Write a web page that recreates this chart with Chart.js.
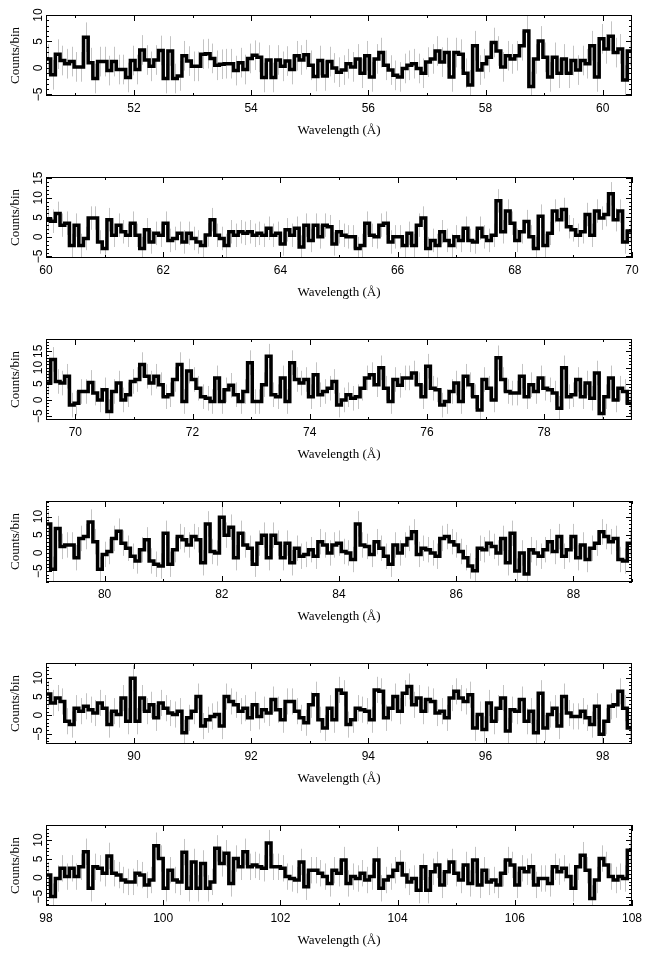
<!DOCTYPE html>
<html>
<head>
<meta charset="utf-8">
<title>Spectrum panels</title>
<script src="https://cdn.jsdelivr.net/npm/chart.js@4.4.0/dist/chart.umd.min.js"></script>
<style>
  html, body { margin: 0; padding: 0; background: #fff; }
  #wrap { position: relative; width: 652px; height: 958px; overflow: hidden; }
  #wrap canvas { position: absolute; left: 0; }
</style>
</head>
<body>
<div id="wrap"></div>
<script>
// ==================== DATA ====================
// binned counts, one value per 0.08 A bin, panels start at panelStart
const binWidth = 0.08;
const panelStart = [50.5, 60, 69.5, 79, 88.5, 98];
const panelEnd = [60.5, 70, 79.5, 89, 98.5, 108];

const counts1 = [
  1.7, -1.3, 2.6, 1.4, 0.8, 1.2, 0.2, 0.2, 5.8, 1.0,
  -2, 1.2, 1.2, -0.5, 1.2, -0.3, -0.3, -1.8, 1.4, -0.3,
  3.4, 1.5, 0.3, 1.5, 3.3, -2, 3.2, -2, -1.5, 2.3,
  1.3, 0.3, 0.3, 2.6, 2.7, 1.8, 0.5, 0.7, 0.8, 0.8,
  -0.5, 1.0, -0.3, 1.8, 2.4, 2.0, -1.8, 1.5, -1.8, 1.5,
  0.3, 1.3, -0.3, 2.3, 1.5, 2.5, 0.5, -1.6, 1.4, -1.5,
  1.2, 0, -0.8, -0.4, 0.8, 0.2, 1.7, -1, 2.3, -1.7,
  1.7, 2.9, 0.5, -0.4, -1.4, -1.7, -0.1, 0.5, 0.8, -0.1,
  -1, 1.1, 1.7, 3.2, 1.1, 2.9, -1.7, 2.9, 2.6, -1,
  -3.2, 4.2, -0.4, 0.8, 2, 4.8, 3.2, 0.2, 2.3, 1.7,
  2.3, 4.2, 7, -3.5, 1.7, 5.1, 2, -1.7, 2, -1,
  1.7, -1, 1.4, -0.4, 1.4, 0.8, 4.2, -1.7, 5.5, 3.6,
  6, 2.9, 3.6, -2.3, 3.2
];
const counts2 = [
  4.5, 4, 6, 3, 3.5, -2.2, 3, -2.2, -0.4, 4.8,
  4.8, -1.3, -3, 4.4, 0.4, 3, 1.3, 0.4, 3.5, 0.4,
  -3, 1.8, -1.3, 0.9, 0.4, 3.5, -0.9, -0.4, 0.9, -1.3,
  0.9, -0.4, -1.3, -2.2, 0.5, 4.4, 0.4, -0.4, -2.2, 1.3,
  0.4, 1.3, 0.9, 1.3, 0.4, 0.9, 0.4, 2.2, 0.4, 0.9,
  -1.8, 1.8, 0.4, 2.2, -2.6, 3, -0.9, 3, 0, 3,
  2.6, -1.8, 1.3, 0.4, 0, 0, -3, -2.2, 3.5, 0.4,
  0, 3, 3.5, -1.3, 0, 0, -2.2, 0.9, -2.2, 3,
  4.8, -3, -0.9, -2.2, 1.3, -0.9, -2.2, 0, -0.9, 2.2,
  -0.9, -1.3, 2.2, 0, -0.9, 0.4, 9.2, 1.3, 6.6, 3.5,
  -0.9, 1.3, 3.9, 0, -3, 5.3, -2.2, 0.9, 6.6, 4.4,
  7, 2.6, 1.8, 0.4, 1.3, 5.7, 0.4, 6.6, 4.8, 5.7,
  11, 4.4, 6.6, -1.3, 1.5
];
const counts3 = [
  5.2, 12.5, 5.7, 5.2, 7.3, -1.6, -1, 2.6, 2.6, 5.4,
  2.1, 0, 3.1, -3.6, 2.6, 5.2, 0, 1.6, 5.7, 6.3,
  10.9, 7.3, 5.2, 7.3, 4.7, 1, 1.6, 6.3, 10.9, -0.5,
  8.9, 6.3, 3.6, 1, 0.5, -0.5, 6.8, -0.5, 3.1, 4.5,
  1.6, -0.5, 2.6, 11.5, -0.5, -0.5, 4.7, 13.5, 1.6, 1,
  6.8, -0.5, 11.5, 6.3, 5.2, 6.3, 1, 7.8, 1.6, 2.6,
  3.6, 5.7, -1.6, 0, 1.6, 0.5, 1, 3.6, 6.8, 7.8,
  4.7, 9.9, 3.6, -0.5, 6.3, 4.5, 6.8, 6.8, 8.3, 4.7,
  1, 10.4, 3.6, 3.1, -1.6, -0.5, 2.6, 5.2, -0.5, 7.3,
  4.7, 1, -3.1, 6.3, 3.6, 0, 13, 6.3, 2.6, 2.1,
  2.1, 7.3, 1, 4.7, 2.6, 6.8, 3.6, 3.1, 2.1, -2.6,
  9.9, 1, 1.6, 6.3, 1, 5.2, 0.5, 8.3, -4.2, 1,
  6.8, 0, 3.6, 2.6, -1
];
const counts4 = [
  8, -4.5, 6.7, 1.8, 2.2, 2.2, -1.3, 4, 4.5, 8.5,
  3.1, -4.5, -0.4, 0.4, 4, 6, 2.7, 1.3, -0.9, -2.2,
  0.9, 3.6, -2.2, -3.1, -3.6, 5.4, -3.1, 0.9, 4.5, 3.6,
  2.2, 4.5, 3.6, -2.7, 8, 0.4, 0, 9.8, 4.9, 7.1,
  -1.3, 5.4, 2.2, 1.3, -3.1, 2.7, 4.9, -1.3, 4.9, 2.7,
  -1.3, 2.7, -2.7, 1.3, -0.9, -0.4, 0.9, -0.9, 3.1, 2.2,
  0, 2.2, 2.7, 0.4, 0, -1.8, 8, 2.2, 1.8, -0.4,
  3.1, 1.3, -0.9, -3.1, 2.2, 0, 2.2, 4, 5.8, -0.4,
  1.3, 0.9, 0, -0.9, 4, 4.5, 3.1, 2.2, 0.4, -1.3,
  -3.6, -4.9, 1.3, 0.9, 2.7, 1.8, 0, 4, -2.7, 5.4,
  -5, 0, -5.8, 0.9, 0, -0.9, 0.9, 3.1, 0.4, 4.5,
  -0.9, 0.9, 4.5, -1.3, 2.2, -1.8, 1.3, 2.7, 5.8, 4.5,
  3.1, 4, -1.8, -2.2, 2.7
];
const counts5 = [
  5.7, 3.3, 4.6, 3.7, -1.6, -2.5, 1.9, 1.1, 2.4, 1.5,
  0.6, 3.3, 1.9, -2.5, 1.1, 0.2, 4.6, -1.6, 9.9, -1.6,
  4.6, 1.1, 2.8, -0.7, 3.3, 1.9, 0.6, 0.2, 1.1, -4.7,
  -0.7, 1.1, 5, -2.9, -1.2, -0.3, 0.2, -2.9, 5, 3.7,
  2.8, 1.1, 1.9, -0.7, 2.8, -0.3, 1.5, 0.6, 4.2, 1.5,
  -1.2, 3.7, 3.7, 1.1, -0.7, -2, 2.8, 5.5, -1.2, -3.4,
  1.9, -1.2, 6.8, 5.9, -2.5, -1.2, 1.9, 1.5, 1.1, -1.2,
  6.8, 6.4, -0.7, 1.9, 5, 1.1, 5.9, 7.7, 2.8, 4.6,
  1.1, 4.2, 3.7, 0.6, 1.1, -0.7, 4.6, 6.4, 4.6, 3.7,
  5.5, -3.4, 0.2, -3.8, 3.3, -1.6, 1.9, 4.6, -4.2, 1.5,
  1.1, 4.2, -1.6, 1.1, -4.7, 5.9, -3.4, 0.2, 1.9, -2.9,
  5, 0.6, -0.3, -0.3, 1.1, -0.7, -2.5, 2.4, -5.1, -1.6,
  2.4, 2.8, 6.4, 1.9, -3.4
];
const counts6 = [
  0.7, -5, -0.2, 2.5, 0.3, 2.5, 0.3, 2.9, 6.9, -2.8,
  2.9, 2.5, 1.2, 5.8, 1.2, 0.7, -0.6, -1.1, -1.1, 1.2,
  0.7, -1.9, -0.6, 8.5, 5.1, -2.8, 2, -0.6, -1.1, 6.8,
  -2.8, 4.2, -2.8, 3.8, -2.8, -1.1, 7.8, 3.8, 6.5, -1.5,
  5.1, 2.9, 6.9, 2.9, 3.4, 2.9, 2.5, 9.2, 2.9, 2.9,
  2.5, 0.3, -0.2, -0.6, 4.2, -2.4, 2, 2, 1.2, 0.3,
  -1.5, 2, 1.2, 4.7, -1.5, 0.3, -0.2, 1.2, -0.6, 0.3,
  4.7, -2.8, -0.6, 0.3, 2, 3.8, 0.7, -1.1, -0.2, -3.3,
  2.9, -3.3, 1.6, 3.4, -1.9, 1.6, 4.2, 1.2, -0.6, 3.4,
  -1.5, 4.7, -1.9, 2, -1.1, -0.6, -1.9, 1.2, 4.7, 3.4,
  -1.9, 2.5, 1.6, 2.9, -1.9, -0.2, -0.2, -1.5, 2.9, 1.6,
  2.5, 0.3, -2.8, 2.9, 6, 2, -5.5, -0.6, 5.1, 3.4,
  0.3, -0.6, 0.3, -0.2, 7.3
];
const countsAll = [counts1, counts2, counts3, counts4, counts5, counts6];

// typical 1-sigma half length of the grey error bars in each panel
const errHalf = [2.8, 3.0, 3.8, 3.5, 3.5, 3.5];

// axis ranges and tick labels
const yMin = [-5.3, -5.4, -6.2, -8, -7.7, -7.5];
const yMax = [10, 15.3, 18.8, 14.3, 14, 14];
const xTicks1 = [52, 54, 56, 58, 60];
const xTicks2 = [60, 62, 64, 66, 68, 70];
const xTicks3 = [70, 72, 74, 76, 78];
const xTicks4 = [80, 82, 84, 86, 88];
const xTicks5 = [90, 92, 94, 96, 98];
const xTicks6 = [98, 100, 102, 104, 106, 108];
const xTicksAll = [xTicks1, xTicks2, xTicks3, xTicks4, xTicks5, xTicks6];
const yTicksLow = [-5, 0, 5, 10];
const yTicksHigh = [-5, 0, 5, 10, 15];
const yTicksAll = [yTicksLow, yTicksHigh, yTicksHigh, yTicksLow, yTicksLow, yTicksLow];

// ==================== LAYOUT ====================
const PANEL_TOP = [15, 177, 339, 501, 663, 825];
const PLOT_H = 81;
const PAD_TOP = 10;
const CANVAS_H = 150;
const CANVAS_W = 652;
const PLOT_LEFT = 46;
const PLOT_RIGHT = 632;
const SANS = "'Liberation Sans', Arial, sans-serif";
const SERIF = "'Liberation Serif', 'Times New Roman', serif";

function minusLabel(v) {
  return v < 0 ? '\u2212' + Math.abs(v) : String(v);
}

// frame, inward ticks, rotated y labels and grey error bars
const framePlugin = {
  id: 'frame',
  beforeDatasetsDraw(chart, args, opts) {
    const k = opts.panel;
    const { ctx, chartArea: a, scales: { x, y } } = chart;
    const vals = countsAll[k];
    ctx.save();
    ctx.beginPath();
    ctx.rect(a.left, a.top, a.right - a.left, a.bottom - a.top);
    ctx.clip();
    ctx.strokeStyle = '#c4c4c4';
    ctx.lineWidth = 1;
    ctx.beginPath();
    vals.forEach((v, i) => {
      const px = Math.round(x.getPixelForValue(panelStart[k] + (i + 0.5) * binWidth)) + 0.5;
      ctx.moveTo(px, y.getPixelForValue(v - errHalf[k]));
      ctx.lineTo(px, y.getPixelForValue(v + errHalf[k]));
    });
    ctx.stroke();
    ctx.restore();
  },
  afterDraw(chart, args, opts) {
    const k = opts.panel;
    const { ctx, chartArea: a, scales: { x, y } } = chart;
    ctx.save();
    ctx.strokeStyle = '#000';
    ctx.lineWidth = 1;
    ctx.strokeRect(a.left + 0.5, a.top + 0.5, a.right - a.left - 1, a.bottom - a.top - 1);

    ctx.beginPath();
    // x ticks, major at labels, minor every 1 A
    const majX = xTicksAll[k];
    for (let v = Math.ceil(panelStart[k]); v <= panelEnd[k]; v++) {
      const len = majX.includes(v) ? 6 : 3;
      const px = Math.round(x.getPixelForValue(v)) + 0.5;
      ctx.moveTo(px, a.bottom); ctx.lineTo(px, a.bottom - len);
      ctx.moveTo(px, a.top); ctx.lineTo(px, a.top + len);
    }
    // y ticks, major every 5, minor every 1
    for (let v = Math.ceil(yMin[k]); v <= yMax[k]; v++) {
      const len = v % 5 === 0 ? 6 : 3;
      const py = Math.round(y.getPixelForValue(v)) + 0.5;
      ctx.moveTo(a.left, py); ctx.lineTo(a.left + len, py);
      ctx.moveTo(a.right, py); ctx.lineTo(a.right - len, py);
    }
    ctx.stroke();

    // rotated y tick labels
    ctx.fillStyle = '#000';
    ctx.font = '12px ' + SANS;
    ctx.textAlign = 'center';
    ctx.textBaseline = 'middle';
    yTicksAll[k].forEach(v => {
      ctx.save();
      ctx.translate(39, y.getPixelForValue(v));
      ctx.rotate(-Math.PI / 2);
      ctx.fillText(minusLabel(v), 0, 0);
      ctx.restore();
    });
    ctx.restore();
  }
};

// ==================== BUILD PANELS ====================
const wrap = document.getElementById('wrap');

countsAll.forEach((vals, k) => {
  const canvas = document.createElement('canvas');
  canvas.width = CANVAS_W;
  canvas.height = CANVAS_H;
  canvas.style.width = CANVAS_W + 'px';
  canvas.style.height = CANVAS_H + 'px';
  canvas.style.top = (PANEL_TOP[k] - PAD_TOP) + 'px';
  wrap.appendChild(canvas);

  // histogram points at the left bin edges, plus the closing right edge
  const pts = vals.map((v, i) => ({ x: panelStart[k] + i * binWidth, y: v }));
  pts.push({ x: panelStart[k] + vals.length * binWidth, y: vals[vals.length - 1] });

  new Chart(canvas, {
    type: 'line',
    data: {
      datasets: [{
        data: pts,
        stepped: 'before',
        borderColor: '#000',
        borderWidth: 3.5,
        pointRadius: 0,
        fill: false,
        tension: 0
      }]
    },
    options: {
      responsive: false,
      animation: false,
      devicePixelRatio: 1,
      layout: { padding: { top: PAD_TOP, right: CANVAS_W - PLOT_RIGHT, bottom: 0, left: 0 } },
      plugins: {
        legend: { display: false },
        tooltip: { enabled: false },
        frame: { panel: k }
      },
      scales: {
        x: {
          type: 'linear',
          min: panelStart[k],
          max: panelEnd[k],
          grid: { display: false, drawTicks: false },
          border: { display: false },
          afterBuildTicks: axis => { axis.ticks = xTicksAll[k].map(v => ({ value: v })); },
          ticks: {
            color: '#000',
            font: { family: SANS, size: 12 },
            padding: 5,
            maxRotation: 0,
            autoSkip: false
          },
          title: {
            display: true,
            text: 'Wavelength (Å)',
            color: '#000',
            font: { family: SERIF, size: 13 },
            padding: { top: 0, bottom: 17 }
          },
          afterFit: s => { s.height = CANVAS_H - PAD_TOP - PLOT_H; }
        },
        y: {
          type: 'linear',
          min: yMin[k],
          max: yMax[k],
          grid: { display: false, drawTicks: false },
          border: { display: false },
          ticks: { display: false },
          title: {
            display: true,
            text: 'Counts/bin',
            color: '#000',
            font: { family: SERIF, size: 13 },
            padding: { top: 8, bottom: 0 }
          },
          afterFit: s => { s.width = PLOT_LEFT; }
        }
      }
    },
    plugins: [framePlugin]
  });
});
</script>
</body>
</html>
